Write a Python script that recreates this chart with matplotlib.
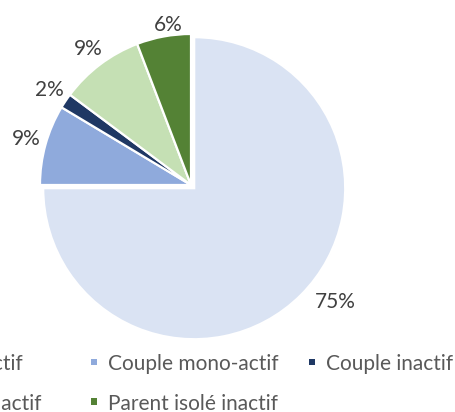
import matplotlib
matplotlib.use("Agg")
import matplotlib.pyplot as plt
from matplotlib.patches import Rectangle
import numpy as np

categories = ["Couple bi-actif", "Couple mono-actif", "Couple inactif",
              "Parent isolé actif", "Parent isolé inactif"]
values = [75.0, 8.6, 1.6, 9.0, 5.8]
colors = ["#DAE3F3", "#8FAADC", "#1F3864", "#C5E0B4", "#548235"]

W, H = 456, 412
plt.rcParams["font.family"] = ["Lato", "DejaVu Sans"]
fig = plt.figure(figsize=(W / 100, H / 100), dpi=100)

# pie placement (pixels, from top-left)
cx, cy, R = 191, 185, 151
half = 1.3
s = R * half
ax = fig.add_axes([(cx - s) / W, (H - cy - s) / H, 2 * s / W, 2 * s / H])

explode = [0.03, 0, 0, 0, 0]
wedges, texts, autotexts = ax.pie(
    values, colors=colors, startangle=90, counterclock=False,
    explode=explode, autopct="%1.0f%%", pctdistance=1.13,
    wedgeprops=dict(edgecolor="white", linewidth=1.6),
    textprops=dict(fontsize=15, color="#404040"), radius=1)
ax.set_xlim(-half, half)
ax.set_ylim(-half, half)
ax.set_aspect("equal")
ax.axis("off")


def place(idx, dist, dtheta):
    w = wedges[idx]
    m = np.deg2rad((w.theta1 + w.theta2) / 2 + dtheta)
    c = w.center
    autotexts[idx].set_position((c[0] + dist * np.cos(m), c[1] + dist * np.sin(m)))


# best-fit style label placement tweaks
place(0, 1.2, 6)
place(4, 1.07, -2.5)

# legend (Excel style, equal-width columns, partially cropped like the original)
col_x = [-126, 94, 312]
row_y = [362, 401.5]
ms = 6.5
for i, (lab, col) in enumerate(zip(categories, colors)):
    r, c = divmod(i, 3)
    mx, my = col_x[c], row_y[r]
    fig.patches.append(Rectangle(((mx - ms / 2) / W, 1 - (my + ms / 2) / H), ms / W, ms / H,
                                 transform=fig.transFigure, facecolor=col, edgecolor="none"))
    fig.text((mx + 14) / W, 1 - my / H, lab, fontsize=15, color="#595959",
             ha="left", va="center_baseline")

fig.savefig("out.png", dpi=100)
